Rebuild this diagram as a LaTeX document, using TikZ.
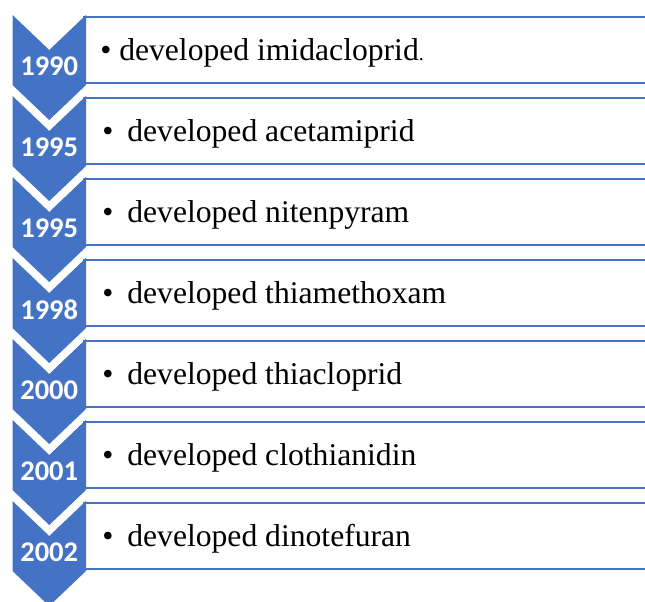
\documentclass[tikz,border=0pt]{standalone}
\usepackage{fontspec}
\setmainfont{Liberation Serif}
\newfontfamily\itemfont{Liberation Serif}
\newfontfamily\yearfont{Carlito}
\definecolor{chevblue}{HTML}{4472C4}
\begin{document}
\begin{tikzpicture}
[chevrondecorate/.style={fill=chevblue,draw=none},%
  boxdecorate/.style={draw=chevblue,line width=1.8pt,fill=white},%
  yeardecorate/.style={text=white,inner sep=0pt,font=\yearfont\bfseries\fontsize{20.3}{24}\selectfont},%
  itemdecorate/.style={anchor=west,inner sep=0pt,font=\itemfont\fontsize{22.5}{27}\selectfont}]
\useasboundingbox (0,0) rectangle (16.125,-15.025);
\clip (0,0) rectangle (16.125,-15.025);
% boxes, chevrons and years
\foreach \i/\yr in {0/1990,1/1995,2/1995,3/1998,4/2000,5/2001,6/2002}
{
\begin{scope}[yshift=-\i*2.025cm]
\draw[boxdecorate] (2.1,-0.425) rectangle (17,-2.075);
\fill[chevrondecorate] (0.3125,-0.375) -- (1.231,-1.25) -- (2.15,-0.375)
  -- (2.15,-2.125) -- (1.231,-3.0) -- (0.3125,-2.125) -- cycle;
\node (year\i) at (1.231,-1.66) [yeardecorate] {\yr};
\end{scope}
}
% items
\node (item0) at (2.5,-1.33) [itemdecorate] {\textbullet\ developed imidacloprid{\fontsize{14}{16}\selectfont.}};
\node (item1) at (2.55,-3.355) [itemdecorate] {\textbullet\hspace{0.35cm}developed acetamiprid};
\node (item2) at (2.55,-5.38) [itemdecorate] {\textbullet\hspace{0.35cm}developed nitenpyram};
\node (item3) at (2.55,-7.405) [itemdecorate] {\textbullet\hspace{0.35cm}developed thiamethoxam};
\node (item4) at (2.55,-9.43) [itemdecorate] {\textbullet\hspace{0.35cm}developed thiacloprid};
\node (item5) at (2.55,-11.455) [itemdecorate] {\textbullet\hspace{0.35cm}developed clothianidin};
\node (item6) at (2.55,-13.48) [itemdecorate] {\textbullet\hspace{0.35cm}developed dinotefuran};
\end{tikzpicture}
\end{document}
